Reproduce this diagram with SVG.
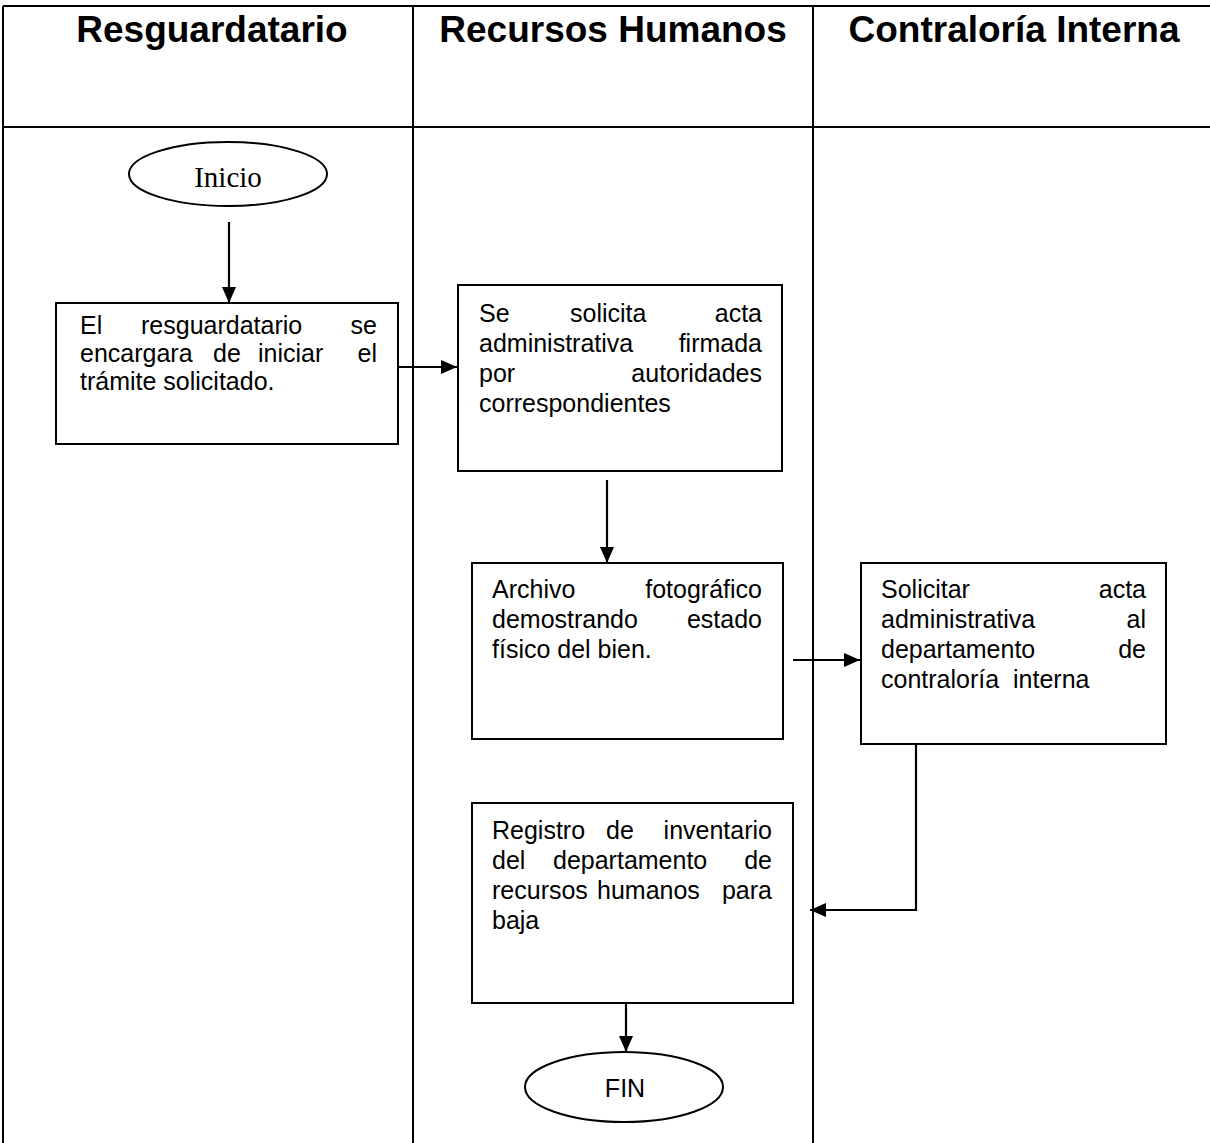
<svg xmlns="http://www.w3.org/2000/svg" width="1210" height="1143" viewBox="0 0 1210 1143">
<style>
.bg{fill:#fff}
.grid{stroke:#000;stroke-width:2;fill:none}
.box{fill:#fff;stroke:#000;stroke-width:2}
.hdr{font-family:"Liberation Sans",Arial,sans-serif;font-weight:bold;font-size:37px;fill:#000;text-anchor:middle}
.t{font-family:"Liberation Sans",Arial,sans-serif;font-size:25px;fill:#000}
.e{text-anchor:end}
.serif{font-family:"Liberation Serif","Times New Roman",serif;font-size:29px;fill:#000;text-anchor:middle}
.c{text-anchor:middle}
.conn{stroke:#000;stroke-width:2.2;fill:none;marker-end:url(#arr)}
</style>
<defs>
<marker id="arr" viewBox="0 0 16 14" refX="16" refY="7" markerWidth="16" markerHeight="14" markerUnits="userSpaceOnUse" orient="auto">
<path d="M0,0 L16,7 L0,14 z" fill="#000"/>
</marker>
</defs>
<rect class="bg" x="0" y="0" width="1210" height="1143"/>
<g id="lanes">
<path class="grid" d="M3,6 H1210 M3,127 H1210 M3,6 V1143 M413,6 V1143 M813,6 V1143"/>
<text class="hdr" x="212" y="42">Resguardatario</text>
<text class="hdr" x="613" y="42">Recursos Humanos</text>
<text class="hdr" x="1014" y="42">Contraloría Interna</text>
</g>
<g id="connectors">
<line class="conn" x1="229" y1="222" x2="229" y2="303"/>
<line class="conn" x1="398" y1="367" x2="457" y2="367"/>
<line class="conn" x1="607" y1="480" x2="607" y2="563"/>
<line class="conn" x1="793" y1="660" x2="860" y2="660"/>
<path class="conn" d="M916,744 V910 H810"/>
<line class="conn" x1="626" y1="1003" x2="626" y2="1052"/>
</g>
<g id="inicio">
<ellipse class="box" cx="228" cy="174" rx="99" ry="32"/>
<text class="serif" x="228" y="187">Inicio</text>
</g>
<g id="box1">
<rect class="box" x="56" y="303" width="342" height="141"/>
<text class="t" x="80" y="334">El</text>
<text class="t" x="141" y="334">resguardatario</text>
<text class="t e" x="377" y="334">se</text>
<text class="t" x="80" y="362">encargara</text>
<text class="t" x="213" y="362">de</text>
<text class="t" x="258" y="362">iniciar</text>
<text class="t e" x="377" y="362">el</text>
<text class="t" x="80" y="390">trámite solicitado.</text>
</g>
<g id="box2">
<rect class="box" x="458" y="285" width="324" height="186"/>
<text class="t" x="479" y="322">Se</text>
<text class="t" x="570" y="322">solicita</text>
<text class="t e" x="762" y="322">acta</text>
<text class="t" x="479" y="352">administrativa</text>
<text class="t e" x="762" y="352">firmada</text>
<text class="t" x="479" y="382">por</text>
<text class="t e" x="762" y="382">autoridades</text>
<text class="t" x="479" y="412">correspondientes</text>
</g>
<g id="box3">
<rect class="box" x="472" y="563" width="311" height="176"/>
<text class="t" x="492" y="598">Archivo</text>
<text class="t e" x="762" y="598">fotográfico</text>
<text class="t" x="492" y="628">demostrando</text>
<text class="t e" x="762" y="628">estado</text>
<text class="t" x="492" y="658">físico del bien.</text>
</g>
<g id="box4">
<rect class="box" x="861" y="563" width="305" height="181"/>
<text class="t" x="881" y="598">Solicitar</text>
<text class="t e" x="1146" y="598">acta</text>
<text class="t" x="881" y="628">administrativa</text>
<text class="t e" x="1146" y="628">al</text>
<text class="t" x="881" y="658">departamento</text>
<text class="t e" x="1146" y="658">de</text>
<text class="t" x="881" y="688" xml:space="preserve">contraloría  interna</text>
</g>
<g id="box5">
<rect class="box" x="472" y="803" width="321" height="200"/>
<text class="t" x="492" y="839">Registro</text>
<text class="t" x="606" y="839">de</text>
<text class="t e" x="772" y="839">inventario</text>
<text class="t" x="492" y="869">del</text>
<text class="t" x="553" y="869">departamento</text>
<text class="t e" x="772" y="869">de</text>
<text class="t" x="492" y="899">recursos</text>
<text class="t" x="597" y="899">humanos</text>
<text class="t e" x="772" y="899">para</text>
<text class="t" x="492" y="929">baja</text>
</g>
<g id="fin">
<ellipse class="box" cx="624" cy="1087" rx="99" ry="35"/>
<text class="t c" x="625" y="1097">FIN</text>
</g>
</svg>
